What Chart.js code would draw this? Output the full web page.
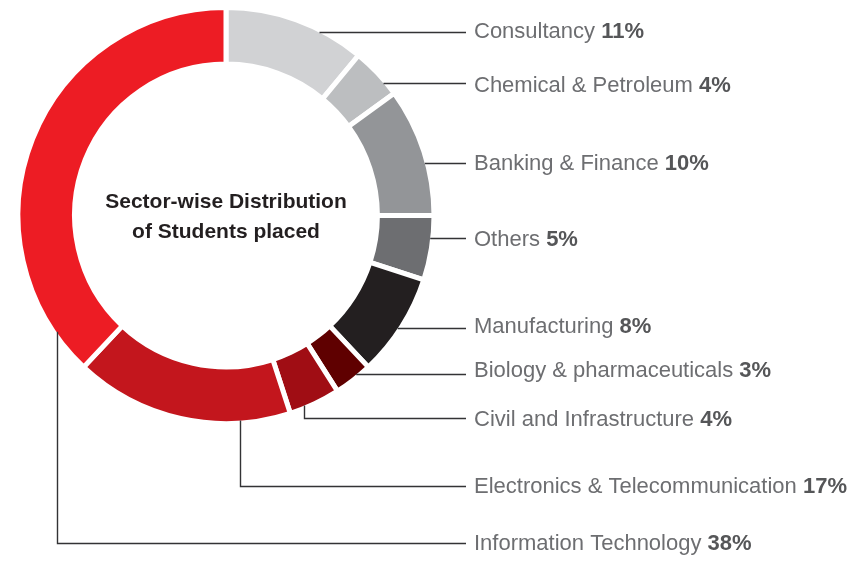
<!DOCTYPE html>
<html>
<head>
<meta charset="utf-8">
<script src="https://cdn.jsdelivr.net/npm/chart.js@4.4.1/dist/chart.umd.min.js"></script>
<style>
    html, body { margin: 0; padding: 0; background: #fff; }
</style>
</head>
<body>
<canvas id="myChart" width="868" height="562"></canvas>
<script>
// data block
const sectors = [
    'Consultancy',
    'Chemical & Petroleum',
    'Banking & Finance',
    'Others',
    'Manufacturing',
    'Biology & pharmaceuticals',
    'Civil and Infrastructure',
    'Electronics & Telecommunication',
    'Information Technology'
];
const shares = [11, 4, 10, 5, 8, 3, 4, 17, 38];
const sectorColors = [
    '#d1d2d4', '#bcbec0', '#939598', '#6d6e71', '#231f20',
    '#5f0000', '#a00d14', '#c3161d', '#ed1c24'
];
const centerTitle = ['Sector-wise Distribution', 'of Students placed'];

// label layout: leader line y and text baseline per row
const rowLineY = [32.3, 82.7, 163.3, 238.3, 328, 374, 418.3, 486, 542.7];
const rowTextY = [37.7, 91.5, 170, 246, 332.5, 377, 425.8, 493.3, 550];
// rows whose leader drops straight down from the ring (fraction along the slice)
const dropAt = [null, null, null, null, null, null, 0.7, 0.23, 0.09];
const lineEndX = 466;
const textX = 474;

// leader lines + labels + centre title
const leaderLabels = {
    id: 'leaderLabels',
    afterDatasetsDraw(chart) {
        const ctx = chart.ctx;
        const arcs = chart.getDatasetMeta(0).data;
        ctx.save();
        ctx.lineWidth = 1.4;
        ctx.strokeStyle = '#333335';
        arcs.forEach((arc, i) => {
            const r = arc.outerRadius - 2.5;
            const ly = Math.round(rowLineY[i]) + 0.5;
            ctx.beginPath();
            if (dropAt[i] === null) {
                const dy = ly - arc.y;
                const x0 = arc.x + Math.sqrt(Math.max(r * r - dy * dy, 0));
                ctx.moveTo(x0, ly);
            } else {
                const a = arc.startAngle + dropAt[i] * (arc.endAngle - arc.startAngle);
                const x0 = Math.round(arc.x + r * Math.cos(a)) + 0.5;
                ctx.moveTo(x0, arc.y + r * Math.sin(a));
                ctx.lineTo(x0, ly);
            }
            ctx.lineTo(lineEndX, ly);
            ctx.stroke();

            // label text: name regular, share bold
            ctx.textBaseline = 'alphabetic';
            ctx.textAlign = 'left';
            ctx.font = '22px "Liberation Sans", Arial, sans-serif';
            ctx.fillStyle = '#6d6e71';
            const name = sectors[i] + ' ';
            ctx.fillText(name, textX, rowTextY[i]);
            const w = ctx.measureText(name).width;
            ctx.font = 'bold 22px "Liberation Sans", Arial, sans-serif';
            ctx.fillStyle = '#555658';
            ctx.fillText(shares[i] + '%', textX + w, rowTextY[i]);
        });

        const c = arcs[0];
        ctx.font = 'bold 21px "Liberation Sans", Arial, sans-serif';
        ctx.fillStyle = '#231f20';
        ctx.textAlign = 'center';
        ctx.fillText(centerTitle[0], c.x, c.y - 7.5);
        ctx.fillText(centerTitle[1], c.x, c.y + 22.5);
        ctx.restore();
    }
};

// config block
const config = {
    type: 'doughnut',
    data: {
        labels: sectors,
        datasets: [{
            data: shares,
            backgroundColor: sectorColors,
            borderColor: '#ffffff',
            borderWidth: 5,
            hoverBorderWidth: 5,
            hoverOffset: 0
        }]
    },
    options: {
        responsive: false,
        devicePixelRatio: 1,
        animation: false,
        cutout: '72.8%',
        layout: {
            padding: { left: 15.5, top: 5, right: 431.5, bottom: 136 }
        },
        plugins: {
            legend: { display: false },
            tooltip: { enabled: false }
        }
    },
    plugins: [leaderLabels]
};

// init render block
const myChart = new Chart(
    document.getElementById('myChart'),
    config
);
</script>
</body>
</html>
